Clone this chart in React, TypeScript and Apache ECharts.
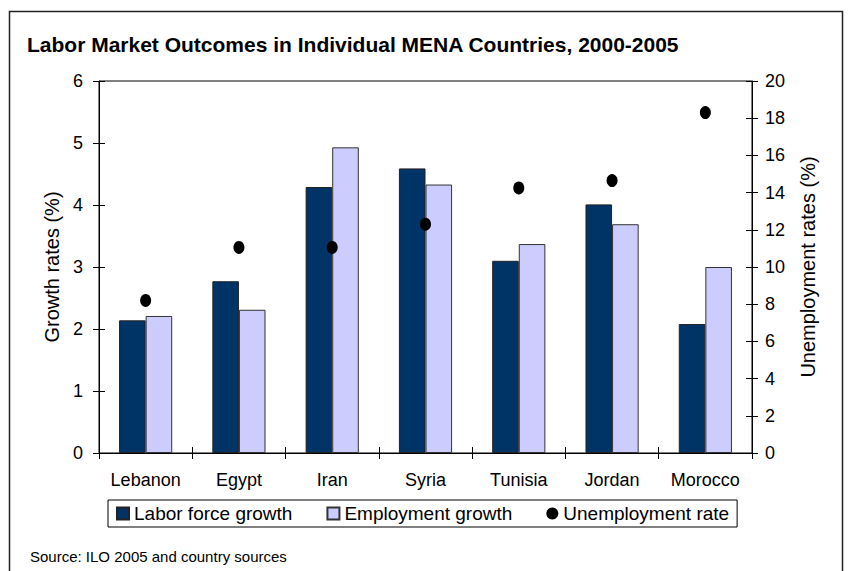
import React, { useEffect, useRef } from "react";
import * as echarts from "echarts";

const countries = ["Lebanon", "Egypt", "Iran", "Syria", "Tunisia", "Jordan", "Morocco"];
const laborForceGrowth = [2.14, 2.77, 4.29, 4.59, 3.1, 4.01, 2.08];
const employmentGrowth = [2.21, 2.31, 4.93, 4.33, 3.37, 3.69, 3.0];
const unemploymentRate = [8.2, 11.05, 11.05, 12.3, 14.25, 14.65, 18.3];

const FONT = "Liberation Sans, Arial, sans-serif";

export default function App() {
  const ref = useRef<HTMLDivElement>(null);
  useEffect(() => {
    if (!ref.current) return;
    const chart = echarts.init(ref.current, undefined, { renderer: "svg" });
    const hiddenAxisCommon = {
      axisLine: { show: false },
      axisLabel: { show: false },
      splitLine: { show: false },
    };
    chart.setOption({
      animation: false,
      backgroundColor: "#fff",
      textStyle: { fontFamily: FONT, color: "#000" },
      title: {
        text: "Labor Market Outcomes in Individual MENA Countries, 2000-2005",
        left: 27,
        top: 34,
        padding: 0,
        textStyle: { fontFamily: FONT, fontSize: 21, fontWeight: "bold", color: "#000" },
      },
      graphic: [
        {
          type: "rect",
          shape: { x: 9.5, y: 11.5, width: 833, height: 620 },
          style: { fill: "none", stroke: "#222", lineWidth: 1.5 },
          silent: true,
        },
        {
          type: "text",
          left: 30,
          top: 549,
          style: {
            text: "Source: ILO 2005 and country sources",
            font: "15px " + FONT,
            fill: "#000",
          },
        },
      ],
      legend: {
        left: 108,
        top: 500,
        orient: "horizontal",
        padding: [4, 8],
        itemGap: 34,
        itemWidth: 12,
        itemHeight: 12,
        borderColor: "#000",
        borderWidth: 1,
        textStyle: { fontFamily: FONT, fontSize: 19, color: "#000" },
        data: [
          { name: "Labor force growth", icon: "rect" },
          { name: "Employment growth", icon: "rect" },
          { name: "Unemployment rate", icon: "circle", itemStyle: { color: "#000", opacity: 1 } },
        ],
      },
      grid: {
        left: 99,
        right: 96,
        top: 81,
        bottom: 118,
        show: true,
        borderColor: "#000",
        borderWidth: 1,
        containLabel: false,
      },
      xAxis: [
        {
          type: "category",
          data: countries,
          position: "bottom",
          axisLine: { show: true, lineStyle: { color: "#000", width: 1 } },
          axisTick: { show: true, length: 6, inside: false, lineStyle: { color: "#000" } },
          axisLabel: { fontFamily: FONT, fontSize: 18, color: "#000", margin: 18 },
          splitLine: { show: false },
        },
        {
          type: "category",
          data: countries,
          position: "bottom",
          axisTick: { show: true, length: 6, inside: true, lineStyle: { color: "#000" } },
          ...hiddenAxisCommon,
        },
      ],
      yAxis: [
        {
          type: "value",
          position: "left",
          min: 0,
          max: 6,
          interval: 1,
          name: "Growth rates (%)",
          nameLocation: "middle",
          nameRotate: 90,
          nameGap: 37,
          nameTextStyle: { fontFamily: FONT, fontSize: 20, color: "#000" },
          axisLine: { show: true, lineStyle: { color: "#000", width: 1 } },
          axisTick: { show: true, length: 6, lineStyle: { color: "#000" } },
          axisLabel: { fontFamily: FONT, fontSize: 18, color: "#000", margin: 16 },
          splitLine: { show: false },
        },
        {
          type: "value",
          position: "right",
          min: 0,
          max: 20,
          interval: 2,
          name: "Unemployment rates (%)",
          nameLocation: "middle",
          nameRotate: 90,
          nameGap: 46,
          nameTextStyle: { fontFamily: FONT, fontSize: 20, color: "#000" },
          axisLine: { show: true, lineStyle: { color: "#000", width: 1 } },
          axisTick: { show: true, length: 6, lineStyle: { color: "#000" } },
          axisLabel: { fontFamily: FONT, fontSize: 18, color: "#000", margin: 13 },
          splitLine: { show: false },
        },
        {
          type: "value",
          position: "left",
          min: 0,
          max: 6,
          interval: 1,
          axisTick: { show: true, length: 6, inside: true, lineStyle: { color: "#000" } },
          ...hiddenAxisCommon,
        },
        {
          type: "value",
          position: "right",
          min: 0,
          max: 20,
          interval: 2,
          axisTick: { show: true, length: 6, inside: true, lineStyle: { color: "#000" } },
          ...hiddenAxisCommon,
        },
      ],
      series: [
        {
          name: "Labor force growth",
          type: "bar",
          xAxisIndex: 0,
          yAxisIndex: 0,
          data: laborForceGrowth,
          barGap: "0%",
          barCategoryGap: "43%",
          itemStyle: { color: "#003366", borderColor: "#222", borderWidth: 1 },
        },
        {
          name: "Employment growth",
          type: "bar",
          xAxisIndex: 0,
          yAxisIndex: 0,
          data: employmentGrowth,
          barGap: "0%",
          barCategoryGap: "43%",
          itemStyle: { color: "#CCCCFF", borderColor: "#333", borderWidth: 1 },
        },
        {
          name: "Unemployment rate",
          type: "scatter",
          xAxisIndex: 0,
          yAxisIndex: 1,
          data: unemploymentRate,
          symbol: "circle",
          symbolSize: [11, 13],
          itemStyle: { color: "#000", opacity: 1 },
          z: 5,
        },
      ],
    });
    return () => chart.dispose();
  }, []);
  return (
    <div
      ref={ref}
      style={{ position: "absolute", left: 0, top: 0, width: 848, height: 571 }}
    />
  );
}
